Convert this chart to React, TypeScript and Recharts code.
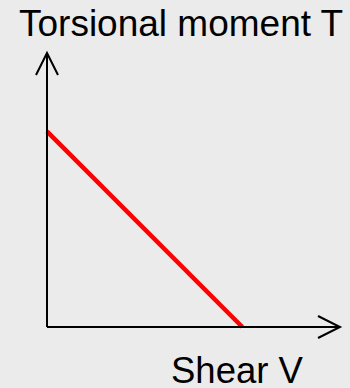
import React from "react";
import { LineChart, Line, XAxis, YAxis } from "recharts";

// interaction line: torsion T against shear V
const shearV = [0, 1];
const torsionT = [1, 0];
const xDomain = [0, 1.5];
const yDomain = [0, 1.4];

const data = shearV.map((v, i) => ({ v, t: torsionT[i] }));

const font = "'Liberation Sans', Arial, sans-serif";

export default function App() {
  return (
    <div
      style={{
        position: "absolute",
        left: 0,
        top: 0,
        width: 350,
        height: 388,
        background: "#ebebeb",
      }}
    >
      <LineChart
        width={350}
        height={388}
        data={data}
        margin={{ top: 53, right: 10, bottom: 60, left: 46 }}
      >
        <defs>
          <marker
            id="arrowHead"
            markerUnits="userSpaceOnUse"
            markerWidth={30}
            markerHeight={30}
            viewBox="-26 -15 30 30"
            refX={0}
            refY={0}
            orient="auto-start-reverse"
          >
            <path d="M -22 -11 L 0 0 L -22 11" fill="none" stroke="#000" strokeWidth={2} />
          </marker>
        </defs>
        <XAxis
          dataKey="v"
          type="number"
          domain={xDomain}
          height={1}
          tick={false}
          tickLine={false}
          axisLine={{ stroke: "#000", strokeWidth: 2, markerEnd: "url(#arrowHead)" }}
        />
        <YAxis
          type="number"
          domain={yDomain}
          width={1}
          tick={false}
          tickLine={false}
          axisLine={{ stroke: "#000", strokeWidth: 2, markerStart: "url(#arrowHead)" }}
        />
        <Line
          type="linear"
          dataKey="t"
          stroke="#ff0000"
          strokeWidth={4.5}
          dot={false}
          isAnimationActive={false}
        />
      </LineChart>
      <svg
        width={350}
        height={388}
        style={{ position: "absolute", left: 0, top: 0, pointerEvents: "none" }}
      >
        <text x={19} y={36} fontSize={37} fontFamily={font} fill="#000">
          Torsional moment T
        </text>
        <text x={171} y={383} fontSize={36.5} fontFamily={font} fill="#000">
          Shear V
        </text>
      </svg>
    </div>
  );
}
